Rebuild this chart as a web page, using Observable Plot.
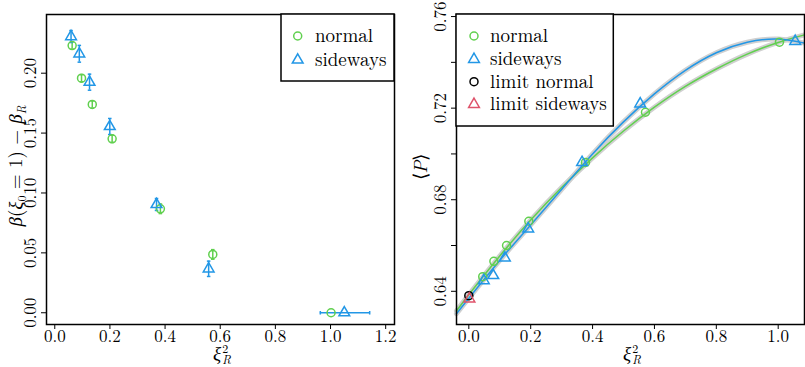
<!DOCTYPE html>
<html><head><meta charset="utf-8">
<script src="https://cdn.jsdelivr.net/npm/d3@7"></script>
<script src="https://cdn.jsdelivr.net/npm/@observablehq/plot@0.6"></script>
<style>
body{margin:0;background:#fff;}
#wrap{position:relative;width:805px;height:367px;font-family:'Latin Modern Roman','Liberation Serif',serif;color:#000;}
#wrap svg{position:absolute;top:0;font-family:'Latin Modern Roman','Liberation Serif',serif !important;}
#wrap svg text{font-family:'Latin Modern Roman','Liberation Serif',serif !important;}
</style></head>
<body><div id="wrap"></div>
<script>
// ---- Left panel data ----
const leftNormalX = [0.063, 0.097, 0.136, 0.208, 0.383, 0.573, 1.002];
const leftNormalY = [0.2231, 0.1958, 0.1739, 0.1452, 0.0868, 0.0487, 0.0000];
const leftNormalErr = [0.003, 0.003, 0.003, 0.003, 0.004, 0.004, 0.000];
const leftSideX = [0.059, 0.089, 0.126, 0.1995, 0.369, 0.558, 1.050];
const leftSideY = [0.2306, 0.2162, 0.1925, 0.1555, 0.0904, 0.0367, 0.0000];
const leftSideErr = [0.005, 0.007, 0.0067, 0.0067, 0.005, 0.0064, 0.000];
const leftSideXLo = [null, null, null, null, null, null, 0.963];
const leftSideXHi = [null, null, null, null, null, null, 1.142];
const leftXTicks = [0, 0.2, 0.4, 0.6, 0.8, 1.0, 1.2];
const leftYTicks = [0, 0.05, 0.10, 0.15, 0.20];

// ---- Right panel data ----
const rightNormalX = [0.045, 0.081, 0.122, 0.194, 0.377, 0.571, 1.004];
const rightNormalY = [0.6464, 0.6531, 0.6600, 0.6706, 0.6963, 0.7182, 0.7488];
const rightSideX = [0.0485, 0.079, 0.1165, 0.192, 0.366, 0.554, 1.055];
const rightSideY = [0.6447, 0.6469, 0.6546, 0.6673, 0.6963, 0.7219, 0.7492];
const limitNormal = {x: 0.0, y: 0.6381};
const limitSide = {x: 0.002, y: 0.6367};
const fitX = [-0.04, 0, 0.1, 0.2, 0.3, 0.4, 0.5, 0.6, 0.7, 0.8, 0.9, 1.0, 1.085];
const fitNormalY = [0.6314, 0.6385, 0.6554, 0.6711, 0.6853, 0.6983, 0.7100, 0.7204, 0.7295, 0.7371, 0.7436, 0.7487, 0.7520];
const fitSideY = [0.6302, 0.6370, 0.6535, 0.6690, 0.6845, 0.7000, 0.7140, 0.7262, 0.7365, 0.7442, 0.7488, 0.7502, 0.7484];
const rightXTicks = [0, 0.2, 0.4, 0.6, 0.8, 1.0];
const rightYTicks = [0.64, 0.66, 0.68, 0.70, 0.72, 0.74, 0.76];
const rightYLabels = [0.64, 0.68, 0.72, 0.76];

const GREEN = "#61D04F", BLUE = "#2297E6", RED = "#DF536B";
const FONT = "'Latin Modern Roman','Liberation Serif',serif";

const hcap = {draw(ctx, size){ const w = Math.sqrt(size)/2; ctx.moveTo(-w,0); ctx.lineTo(w,0); }};
const vcap = {draw(ctx, size){ const w = Math.sqrt(size)/2; ctx.moveTo(0,-w); ctx.lineTo(0,w); }};

const ln = leftNormalX.map((x,i)=>({x, y:leftNormalY[i], e:leftNormalErr[i]}));
const ls = leftSideX.map((x,i)=>({x, y:leftSideY[i], e:leftSideErr[i], xlo:leftSideXLo[i], xhi:leftSideXHi[i]}));
const lnE = ln.filter(d=>d.e>0), lsE = ls.filter(d=>d.e>0), lsX = ls.filter(d=>d.xlo!=null);

const left = Plot.plot({
  width: 400, height: 367, marginLeft: 46, marginRight: 6, marginTop: 14, marginBottom: 43,
  x: {domain: [-0.030, 1.232]}, y: {domain: [-0.0098, 0.249]},
  style: {fontFamily: FONT, fontSize: "17px", background: "transparent", color: "black"},
  marks: [
    Plot.axisX({ticks: leftXTicks, tickSize: 5, tickPadding: 0, tickFormat: d3.format(".1f"), label: null, fontSize: 17}),
    Plot.axisY({ticks: leftYTicks, tickSize: 5, tickFormat: () => "", label: null}),
    Plot.text(leftYTicks, {y: d=>d, text: d=>d3.format(".2f")(d), frameAnchor: "left", rotate: -90, dx: -16, textAnchor: "middle", lineAnchor: "middle", fontSize: 17}),
    Plot.ruleX(lnE, {x: "x", y1: d=>d.y-d.e, y2: d=>d.y+d.e, stroke: GREEN, strokeWidth: 1.5}),
    Plot.dot(lnE, {x: "x", y: d=>d.y-d.e, symbol: hcap, r: 2, stroke: GREEN, strokeWidth: 1.5}),
    Plot.dot(lnE, {x: "x", y: d=>d.y+d.e, symbol: hcap, r: 2, stroke: GREEN, strokeWidth: 1.5}),
    Plot.ruleX(lsE, {x: "x", y1: d=>d.y-d.e, y2: d=>d.y+d.e, stroke: BLUE, strokeWidth: 1.5}),
    Plot.dot(lsE, {x: "x", y: d=>d.y-d.e, symbol: hcap, r: 2, stroke: BLUE, strokeWidth: 1.5}),
    Plot.dot(lsE, {x: "x", y: d=>d.y+d.e, symbol: hcap, r: 2, stroke: BLUE, strokeWidth: 1.5}),
    Plot.ruleY(lsX, {y: "y", x1: "xlo", x2: "xhi", stroke: BLUE, strokeWidth: 1.5}),
    Plot.dot(lsX, {x: "xlo", y: "y", symbol: vcap, r: 2, stroke: BLUE, strokeWidth: 1.5}),
    Plot.dot(lsX, {x: "xhi", y: "y", symbol: vcap, r: 2, stroke: BLUE, strokeWidth: 1.5}),
    Plot.dot(ln, {x: "x", y: "y", symbol: "circle", r: 4, stroke: GREEN, strokeWidth: 1.5, fill: "none"}),
    Plot.dot(ls, {x: "x", y: "y", symbol: "triangle", r: 4, stroke: BLUE, strokeWidth: 1.5, fill: "none"}),
    Plot.frame({stroke: "black", strokeWidth: 1.5})
  ]
});

const fits = fitX.map((x,i)=>({x, n: fitNormalY[i], s: fitSideY[i]}));
const rn = rightNormalX.map((x,i)=>({x, y:rightNormalY[i]}));
const rs = rightSideX.map((x,i)=>({x, y:rightSideY[i]}));

const right = Plot.plot({
  width: 405, height: 367, marginLeft: 56, marginRight: 1, marginTop: 14, marginBottom: 43,
  x: {domain: [-0.0398, 1.085]}, y: {domain: [0.6255, 0.7609]},
  style: {fontFamily: FONT, fontSize: "17px", background: "transparent", color: "black"},
  marks: [
    Plot.axisX({ticks: rightXTicks, tickSize: 5, tickPadding: 0, tickFormat: d3.format(".1f"), label: null, fontSize: 17}),
    Plot.axisY({ticks: rightYTicks, tickSize: 5, tickFormat: () => "", label: null}),
    Plot.text(rightYLabels, {y: d=>d, text: d=>d3.format(".2f")(d), frameAnchor: "left", rotate: -90, dx: -16, textAnchor: "middle", lineAnchor: "middle", fontSize: 17}),
    Plot.line(fits, {x: "x", y: "n", curve: "natural", stroke: "#d0d0d0", strokeWidth: 5}),
    Plot.line(fits, {x: "x", y: "s", curve: "natural", stroke: "#d0d0d0", strokeWidth: 5}),
    Plot.line(fits, {x: "x", y: "n", curve: "natural", stroke: GREEN, strokeWidth: 1.5}),
    Plot.line(fits, {x: "x", y: "s", curve: "natural", stroke: BLUE, strokeWidth: 1.5}),
    Plot.dot(rn, {x: "x", y: "y", symbol: "circle", r: 4, stroke: GREEN, strokeWidth: 1.5, fill: "none"}),
    Plot.dot(rs, {x: "x", y: "y", symbol: "triangle", r: 4, stroke: BLUE, strokeWidth: 1.5, fill: "none"}),
    Plot.dot([limitNormal], {x: "x", y: "y", symbol: "circle", r: 4, stroke: "black", strokeWidth: 1.5, fill: "none"}),
    Plot.dot([limitSide], {x: "x", y: "y", symbol: "triangle", r: 4, stroke: RED, strokeWidth: 1.5, fill: "none"}),
    Plot.frame({stroke: "black", strokeWidth: 1.5})
  ]
});

const wrap = document.getElementById("wrap");
left.style.left = "0px";
right.style.left = "400px";
wrap.appendChild(left);
wrap.appendChild(right);

// ---- legends and axis titles (overlay) ----
const ov = d3.select(wrap).append("svg").attr("width", 805).attr("height", 367).style("left","0px").style("pointer-events","none");
function tri(r){ return d3.symbol(d3.symbolTriangle, Math.PI*r*r)(); }
function legend(box, items){
  ov.append("rect").attr("x", box.x).attr("y", box.y).attr("width", box.w).attr("height", box.h)
    .attr("fill", "white").attr("stroke", "black").attr("stroke-width", 1.5);
  items.forEach(it => {
    const g = ov.append("g").attr("transform", `translate(${it.sx},${it.y})`);
    if (it.sym === "circle") g.append("circle").attr("r", 4).attr("fill","none").attr("stroke", it.color).attr("stroke-width",1.5);
    else g.append("path").attr("d", tri(4)).attr("fill","none").attr("stroke", it.color).attr("stroke-width",1.5);
    ov.append("text").attr("x", it.tx).attr("y", it.y).attr("dy","0.32em").attr("font-size", 19).text(it.label);
  });
}
legend({x: 281, y: 14, w: 113, h: 67}, [
  {sym:"circle", color: GREEN, label:"normal", sx: 297.7, tx: 315, y: 36},
  {sym:"triangle", color: BLUE, label:"sideways", sx: 297.7, tx: 315, y: 60}
]);
legend({x: 456, y: 14, w: 157.3, h: 112}, [
  {sym:"circle", color: GREEN, label:"normal", sx: 474, tx: 490, y: 36},
  {sym:"triangle", color: BLUE, label:"sideways", sx: 474, tx: 490, y: 59.3},
  {sym:"circle", color: "black", label:"limit normal", sx: 474, tx: 490, y: 81.7},
  {sym:"triangle", color: RED, label:"limit sideways", sx: 474, tx: 490, y: 104.3}
]);

function xiTitle(cx){
  const t = ov.append("text").attr("x", cx - 8).attr("y", 360).attr("font-size", 19);
  t.append("tspan").attr("font-style", "italic").text("ξ");
  t.append("tspan").attr("font-size", 12).attr("dy", -7).attr("dx", 1).text("2");
  t.append("tspan").attr("font-size", 12).attr("font-style", "italic").attr("dy", 11).attr("dx", -6).text("R");
}
xiTitle(221);
xiTitle(631);

const yl = ov.append("text").attr("transform", "translate(22,166) rotate(-90)").attr("text-anchor", "middle").attr("font-size", 19);
yl.append("tspan").attr("font-style", "italic").text("β");
yl.append("tspan").text("(");
yl.append("tspan").attr("font-style", "italic").text("ξ");
yl.append("tspan").attr("font-size", 12).attr("dy", 4).text("0");
yl.append("tspan").attr("dy", -4).text(" = 1) − ");
yl.append("tspan").attr("font-style", "italic").text("β");
yl.append("tspan").attr("font-size", 12).attr("font-style", "italic").attr("dy", 4).text("R");

const yr = ov.append("text").attr("transform", "translate(427,167) rotate(-90)").attr("text-anchor", "middle").attr("font-size", 19);
yr.append("tspan").text("⟨");
yr.append("tspan").attr("font-style", "italic").text("P");
yr.append("tspan").text("⟩");
</script></body></html>
